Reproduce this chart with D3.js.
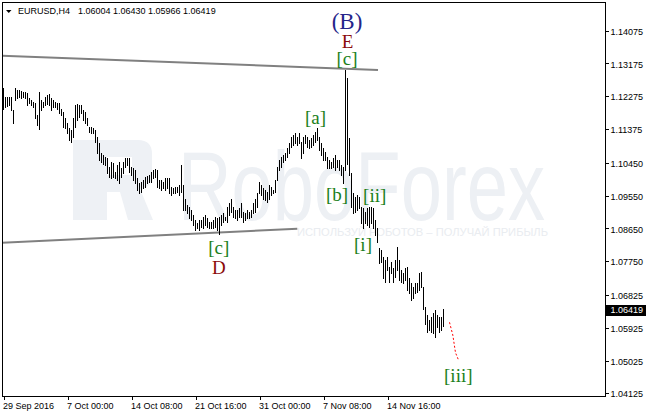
<!DOCTYPE html>
<html><head><meta charset="utf-8">
<script src="https://cdn.jsdelivr.net/npm/d3@7"></script>
<style>
html,body{margin:0;padding:0;background:#fff;}
svg{display:block;}
</style></head>
<body>
<svg id="c" width="646" height="414"></svg>
<script>
// ---- data ----
const symbolTitle = "EURUSD,H4";
const lastOHLC = ["1.06004","1.06430","1.05966","1.06419"];
const lastClose = 1.06419;

const highs = [
1.1249,1.1226,1.1226,1.1226,1.1226,1.1190,1.1249,1.1245,1.1245,1.1243,
1.1240,1.1240,1.1236,1.1222,1.1217,1.1213,1.1208,1.1176,1.1240,1.1217,
1.1213,1.1226,1.1231,1.1234,1.1222,1.1217,1.1213,1.1208,1.1208,1.1194,
1.1185,1.1167,1.1153,1.1140,1.1135,1.1167,1.1204,1.1206,1.1204,1.1204,
1.1190,1.1185,1.1167,1.1144,1.1144,1.1140,1.1135,1.1117,1.1098,1.1071,
1.1066,1.1062,1.1057,1.1034,1.1048,1.1045,1.1021,1.1039,1.1048,1.1030,
1.1048,1.1057,1.1057,1.1057,1.1034,1.1030,1.1025,1.1002,1.0989,1.0993,
1.0998,1.1007,1.1009,1.1011,
1.1021,1.1025,1.1027,1.1025,1.0998,1.0998,1.0993,1.1002,1.1002,1.1002,
1.0979,1.0975,1.0979,1.0979,1.0984,1.1039,1.0984,1.0947,1.0929,1.0925,
1.0915,1.0902,1.0888,1.0879,1.0888,1.0888,1.0897,1.0902,1.0893,1.0883,
1.0883,1.0888,1.0897,1.0893,1.0897,1.0902,1.0906,1.0897,1.0925,1.0934,
1.0947,1.0925,1.0915,1.0915,1.0920,1.0934,1.0911,1.0906,1.0915,1.0911,
1.0915,1.0934,1.0947,1.0961,1.0993,1.0984,1.0975,1.0970,1.0966,1.0984,
1.0979,1.0970,1.0998,1.1034,1.1053,1.1062,1.1066,1.1071,1.1085,1.1098,
1.1117,1.1121,1.1126,1.1117,1.1126,
1.1103,1.1117,1.1121,1.1117,1.1108,1.1112,1.1121,1.1130,1.1140,1.1117,
1.1098,1.1085,1.1075,1.1062,1.1053,1.1048,1.1057,1.1066,1.1053,1.1053,
1.1039,1.1034,1.1300,1.1277,1.1112,1.1016,1.0961,1.0952,1.0957,1.0952,
1.0924,1.0920,1.0911,1.0920,1.0924,1.0924,1.0920,1.0888,1.0865,1.0810,
1.0806,1.0787,1.0778,1.0787,1.0760,1.0774,1.0755,1.0778,1.0815,1.0778,
1.0751,1.0742,1.0755,1.0760,1.0728,1.0714,1.0705,1.0714,1.0714,1.0742,
1.0746,1.0705,1.0650,1.0627,1.0613,1.0623,1.0632,1.0641,1.0627,1.0623,
1.0623,1.0643
];
const lows = [
1.1194,1.1199,1.1201,1.1204,1.1190,1.1153,1.1217,1.1222,1.1226,1.1222,
1.1226,1.1222,1.1204,1.1208,1.1204,1.1199,1.1167,1.1149,1.1137,1.1190,
1.1199,1.1204,1.1206,1.1204,1.1190,1.1199,1.1199,1.1194,1.1181,1.1176,
1.1144,1.1140,1.1126,1.1107,1.1103,1.1117,1.1144,1.1162,1.1172,1.1181,
1.1162,1.1153,1.1149,1.1130,1.1126,1.1126,1.1103,1.1071,1.1053,1.1048,
1.1043,1.1039,1.1016,1.1007,1.1002,1.1007,1.1002,1.0998,1.0989,1.1007,
1.1016,1.1034,1.1039,1.1021,1.1011,1.0998,1.0989,1.0970,1.0963,1.0966,
1.0975,1.0979,1.0989,1.0993,
1.0993,1.1002,1.1007,1.0979,1.0975,1.0970,1.0975,1.0970,1.0975,1.0961,
1.0957,1.0961,1.0961,1.0966,1.0957,1.0966,1.0915,1.0915,1.0906,1.0893,
1.0888,1.0874,1.0861,1.0865,1.0861,1.0870,1.0865,1.0874,1.0870,1.0865,
1.0865,1.0865,1.0870,1.0861,1.0851,1.0874,1.0883,1.0888,1.0883,1.0902,
1.0911,1.0897,1.0893,1.0888,1.0897,1.0897,1.0883,1.0888,1.0893,1.0893,
1.0897,1.0906,1.0911,1.0925,1.0961,1.0957,1.0947,1.0943,1.0938,1.0947,
1.0957,1.0961,1.0966,1.0998,1.1025,1.1034,1.1048,1.1053,1.1062,1.1071,
1.1089,1.1094,1.1098,1.1094,1.1098,
1.1057,1.1071,1.1098,1.1089,1.1085,1.1089,1.1094,1.1103,1.1108,1.1080,
1.1066,1.1053,1.1053,1.1030,1.1030,1.1030,1.1034,1.1025,1.1034,1.1025,
1.1011,1.0989,1.1025,1.1043,1.1011,1.0924,1.0906,1.0911,1.0915,1.0920,
1.0879,1.0865,1.0879,1.0874,1.0870,1.0879,1.0865,1.0847,1.0828,1.0769,
1.0774,1.0728,1.0719,1.0751,1.0719,1.0742,1.0719,1.0732,1.0751,1.0723,
1.0719,1.0714,1.0723,1.0696,1.0687,1.0668,1.0673,1.0687,1.0691,1.0696,
1.0705,1.0645,1.0604,1.0581,1.0586,1.0581,1.0577,1.0568,1.0595,1.0581,
1.0586,1.0597
];
const yTickValues = [1.14075,1.13175,1.12275,1.11375,1.10450,1.09550,1.08650,1.07750,1.06825,1.05925,1.05025,1.04125];
const xTickIndex = [0,32,64,96,128,160,192];
const xTickLabels = ["29 Sep 2016","7 Oct 00:00","14 Oct 08:00","21 Oct 16:00","31 Oct 00:00","7 Nov 08:00","14 Nov 16:00"];

// trend lines: [barIndex, price] pairs
const upperLine = [[-0.75,1.13389],[187.25,1.12997]];
const lowerLine = [[-0.75,1.08258],[146.9,1.08642]];
// forecast path
const forecastIdx = [223,224.65,226,227.35];
const forecastPrice = [1.06073,1.05725,1.05239,1.05058];
// wave labels
const waveText  = ["(B)","E","[c]","[a]","[b]","[ii]","[i]","[c]","D","[iii]"];
const waveIdx   = [171.75,172,171.75,156,166.75,185.6,179.75,107.65,107.65,227.4];
const wavePrice = [1.14108,1.13600,1.13134,1.11515,1.09402,1.09374,1.08029,1.07961,1.07398,1.04435];
const waveKind  = ["major","letter","minor","minor","minor","minor","minor","minor","letter","minor"];

// ---- drawing ----
const svg = d3.select("#c");
const L=2.5, R=605.5, T=2.5, B=396.5;
const x = d3.scaleLinear().domain([0,220]).range([3.5,443.5]);
const y = d3.scaleLinear().domain([1.04125,1.14075]).range([393.3,30.7]);
const FONT = "'Liberation Sans', Arial, sans-serif";

svg.append("defs").append("clipPath").attr("id","plot")
  .append("rect").attr("x",L).attr("y",T).attr("width",R-L).attr("height",B-T);

// watermark
const wm = svg.append("g");
wm.append("path")
  .attr("d","M73,140 H138 Q152,140 152,154 V174 Q152,188 140,189 L153,220 H128 L120,192 H107 V220 H90 V157 H107 V175 H132 V157 H90 V220 H73 Z")
  .attr("fill","#eef1f5").attr("fill-rule","evenodd");
wm.append("text").attr("x",178).attr("y",220)
  .attr("font-family",FONT).attr("font-size",98)
  .attr("textLength",367).attr("lengthAdjust","spacingAndGlyphs")
  .attr("fill","#edf0f4").text("RoboForex");
wm.append("text").attr("x",297).attr("y",236)
  .attr("font-family",FONT).attr("font-size",11)
  .attr("textLength",251).attr("lengthAdjust","spacingAndGlyphs")
  .attr("fill","#e9ecf0").text("ИСПОЛЬЗУЙ РОБОТОВ – ПОЛУЧАЙ ПРИБЫЛЬ");

// trend lines
const tl = svg.append("g").attr("clip-path","url(#plot)");
[upperLine, lowerLine].forEach(ln => {
  tl.append("line")
    .attr("x1",x(ln[0][0])).attr("y1",y(ln[0][1]))
    .attr("x2",x(ln[1][0])).attr("y2",y(ln[1][1]))
    .attr("stroke","#808080").attr("stroke-width",2);
});

// bars
svg.append("g").attr("shape-rendering","crispEdges")
  .selectAll("line").data(highs).join("line")
  .attr("x1",(d,i)=>x(i)).attr("x2",(d,i)=>x(i))
  .attr("y1",d=>Math.round(y(d))).attr("y2",(d,i)=>Math.round(y(lows[i]))+1)
  .attr("stroke","#000").attr("stroke-width",1);

// forecast
svg.append("path")
  .datum(forecastIdx.map((d,i)=>[d,forecastPrice[i]]))
  .attr("d",d3.line().x(d=>x(d[0])).y(d=>y(d[1])))
  .attr("fill","none").attr("stroke","#ff0000").attr("stroke-width",1)
  .attr("stroke-dasharray","2,2");

// wave labels
const colors = {major:"#25258a", letter:"#8b0a0a", minor:"#1a7f1a"};
const sizes = {major:23, letter:19, minor:19};
svg.append("g").selectAll("text").data(waveText).join("text")
  .attr("x",(d,i)=>x(waveIdx[i])).attr("y",(d,i)=>y(wavePrice[i]))
  .attr("text-anchor","middle")
  .attr("font-family","'Liberation Serif', 'Times New Roman', serif")
  .attr("font-size",(d,i)=>sizes[waveKind[i]])
  .attr("fill",(d,i)=>colors[waveKind[i]])
  .text(d=>d);

// border
svg.append("rect").attr("x",L).attr("y",T).attr("width",R-L).attr("height",B-T)
  .attr("fill","none").attr("stroke","#000").attr("stroke-width",1).attr("shape-rendering","crispEdges");

// y axis
const ya = svg.append("g").attr("transform",`translate(${R},0)`)
  .call(d3.axisRight(y).tickValues(yTickValues).tickSize(3).tickPadding(2).tickFormat(d=>d.toFixed(5)));
ya.select(".domain").remove();
ya.selectAll("line").attr("stroke","#000").attr("shape-rendering","crispEdges");
ya.selectAll("text").attr("font-family",FONT).attr("font-size",9).attr("fill","#000").attr("dy","0.4em");

// x axis
const xa = svg.append("g").attr("transform",`translate(0,${B})`)
  .call(d3.axisBottom(x).tickValues(xTickIndex).tickSize(3).tickPadding(3)
    .tickFormat((d)=>xTickLabels[xTickIndex.indexOf(d)]));
xa.select(".domain").remove();
xa.selectAll("line").attr("stroke","#000").attr("shape-rendering","crispEdges");
xa.selectAll("text").attr("font-family",FONT).attr("font-size",9).attr("fill","#000")
  .attr("text-anchor","start").attr("x",-1);

// current price marker
const cy = y(lastClose);
svg.append("rect").attr("x",606).attr("y",Math.round(cy)-5).attr("width",40).attr("height",11).attr("fill","#000");
svg.append("text").attr("x",610.5).attr("y",cy).attr("dy","0.38em")
  .attr("font-family",FONT).attr("font-size",9).attr("fill","#fff").text(lastClose.toFixed(5));

// header
svg.append("path").attr("d","M6,10 H11.5 L8.75,13 Z").attr("fill","#000");
svg.append("text").attr("x",18).attr("y",13.5).attr("font-family",FONT).attr("font-size",9)
  .attr("fill","#000").text(symbolTitle);
svg.append("text").attr("x",78).attr("y",13.5).attr("font-family",FONT).attr("font-size",9)
  .attr("fill","#000").text(lastOHLC.join(" "));
</script>
</body></html>
